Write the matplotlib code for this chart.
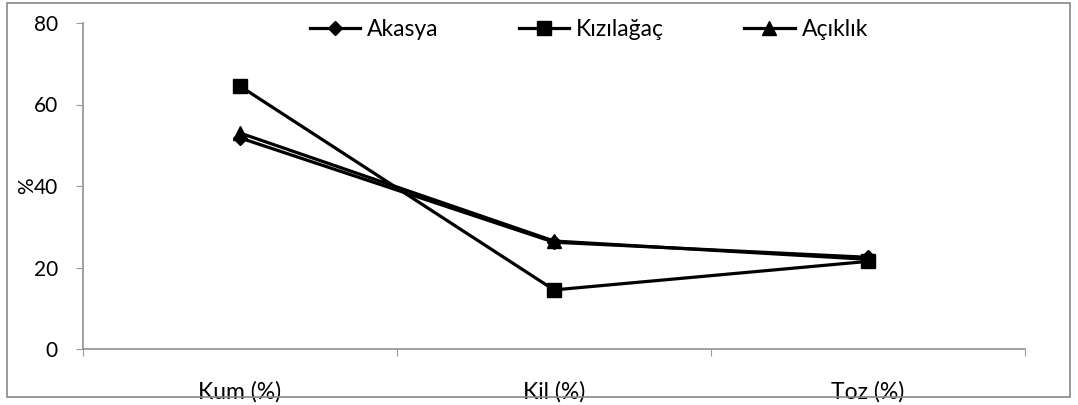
import matplotlib.pyplot as plt
from matplotlib.patches import Rectangle

# Toprak bünyesi verileri
kategoriler = ['Kum (%)', 'Kil (%)', 'Toz (%)']
akasya = [51.8, 26.2, 22.5]
kizilagac = [64.5, 14.5, 21.5]
aciklik = [53.0, 26.5, 22.0]

plt.rcParams['font.family'] = ['Lato', 'DejaVu Sans']

fig = plt.figure(figsize=(10.78, 4.05), dpi=100)
ax = fig.add_axes([83 / 1078, 1 - 349 / 405, 942 / 1078, 326 / 405])

x = [0.5, 1.5, 2.5]
ax.plot(x, akasya, color='black', lw=2.3, marker='D', ms=7.5, label='Akasya')
ax.plot(x, kizilagac, color='black', lw=2.3, marker='s', ms=9.5, label='Kızılağaç')
ax.plot(x, aciklik, color='black', lw=2.3, marker='^', ms=10, label='Açıklık')

ax.set_xlim(0, 3)
ax.set_ylim(0, 80)
ax.set_yticks([0, 20, 40, 60, 80])
ax.set_xticks([0, 1, 2, 3])
ax.set_xticklabels([])
ax.set_xticks(x, minor=True)
ax.set_xticklabels(kategoriler, minor=True)
ax.tick_params(axis='x', which='minor', length=0, pad=23, labelsize=16.5)
ax.tick_params(axis='x', which='major', length=5, color='#999999')
ax.tick_params(axis='y', length=5, color='#999999', labelsize=15, pad=13)

for s in ['top', 'right']:
    ax.spines[s].set_visible(False)
for s in ['left', 'bottom']:
    ax.spines[s].set_color('#999999')
    ax.spines[s].set_linewidth(1.3)

ax.set_ylabel('%', fontsize=15)
ax.yaxis.set_label_coords(-0.049, 0.5)

ax.legend(loc='upper center', bbox_to_anchor=(0.537, 1.075), ncol=3, frameon=False,
          fontsize=16.5, handlelength=2.2, columnspacing=3.5, handletextpad=0.3)

# Grafik çerçevesi
fig.patches.append(Rectangle((7 / 1078, 8 / 405), 1063 / 1078, 394 / 405,
                             transform=fig.transFigure, fill=False,
                             edgecolor='#888888', lw=1.2, zorder=10))

fig.savefig('out.png', dpi=100)
